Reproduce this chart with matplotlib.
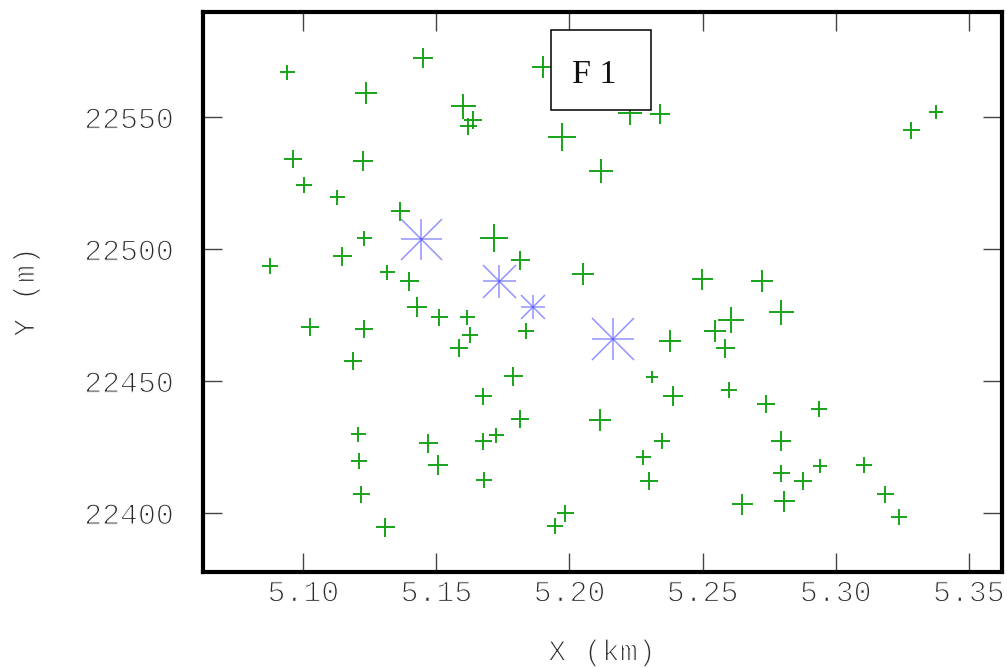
import matplotlib
matplotlib.use("Agg")
import matplotlib.pyplot as plt
import matplotlib.patheffects as pe
from matplotlib.patches import Rectangle

# Station positions (X in km, Y in m) and relative amplitude of each event
sta_x = [5.094, 5.145, 5.1236, 5.160, 5.1638, 5.1619, 5.1971, 5.1902, 5.0961, 5.1224,
         5.1002, 5.1127, 5.1362, 5.1715, 5.1229, 5.1147, 5.0875, 5.1815, 5.205, 5.1315,
         5.1399, 5.234, 5.2229, 5.3282, 5.3378, 5.2119, 5.2499, 5.2724, 5.1428, 5.151,
         5.1614, 5.1024, 5.1227, 5.1625, 5.1838, 5.1587, 5.1188, 5.1789, 5.1674, 5.1816,
         5.2115, 5.1204, 5.147, 5.1674, 5.1725, 5.121, 5.1507, 5.1679, 5.1218, 5.1308,
         5.1945, 5.1984, 5.2378, 5.2606, 5.2547, 5.2586, 5.2793, 5.2309, 5.2391, 5.2601,
         5.274, 5.2936, 5.2347, 5.2796, 5.2278, 5.2795, 5.294, 5.2879, 5.23, 5.3108,
         5.3185, 5.3239, 5.2648, 5.2806]
sta_y = [22567.3, 22572.5, 22559.1, 22554.3, 22549.0, 22546.5, 22542.7, 22569.0, 22534.0, 22533.6,
         22524.5, 22519.7, 22514.6, 22504.3, 22504.4, 22497.6, 22493.5, 22496.0, 22490.7, 22491.2,
         22487.8, 22551.4, 22551.7, 22545.2, 22552.0, 22529.8, 22488.7, 22487.8, 22478.2, 22474.2,
         22474.2, 22470.5, 22469.9, 22467.6, 22469.1, 22462.4, 22457.6, 22452.0, 22444.3, 22435.7,
         22435.2, 22430.0, 22426.5, 22427.4, 22429.6, 22419.8, 22418.3, 22412.7, 22407.2, 22394.9,
         22395.0, 22400.0, 22465.4, 22473.0, 22469.0, 22462.6, 22476.3, 22451.4, 22444.4, 22446.6,
         22441.3, 22439.3, 22427.3, 22427.3, 22421.3, 22415.3, 22417.8, 22412.0, 22412.0, 22418.4,
         22407.3, 22398.6, 22403.4, 22404.6]
sta_amp = [1.5, 2.0, 2.2, 2.5, 1.8, 1.7, 2.7, 2.3, 1.8, 2.0,
           1.6, 1.5, 1.9, 2.7, 1.5, 1.9, 1.6, 1.9, 2.3, 1.5,
           1.9, 2.0, 2.4, 1.7, 1.35, 2.4, 2.1, 2.2, 2.0, 1.7,
           1.5, 1.8, 1.8, 1.6, 1.6, 1.8, 1.8, 1.9, 1.7, 1.8,
           2.3, 1.5, 1.9, 1.7, 1.5, 1.6, 2.0, 1.6, 1.7, 1.9,
           1.6, 1.7, 2.2, 2.6, 2.2, 1.9, 2.5, 1.1, 2.0, 1.6,
           1.8, 1.6, 1.6, 2.0, 1.5, 1.7, 1.4, 1.8, 1.8, 1.6,
           1.7, 1.6, 2.1, 2.1]

# Source locations and their relative amplitude
src_x = [5.1444, 5.1735, 5.1865, 5.2162]
src_y = [22504.0, 22487.8, 22478.2, 22465.8]
src_amp = [4.1, 3.3, 2.4, 4.2]

x_ticks = [5.10, 5.15, 5.20, 5.25, 5.30, 5.35]
y_ticks = [22400, 22450, 22500, 22550]
panel_label = "F 1"

MS_PER_AMP = 7.2
MONO = "Liberation Mono"
# thin the monospace glyphs by eroding their outline with a white stroke
THIN = [pe.Normal(), pe.Stroke(linewidth=0.9, foreground="white")]

fig = plt.figure(figsize=(10.07, 6.68), dpi=100)
ax = fig.add_axes([0.202, 0.143, 0.793, 0.8395])

for x, y, a in zip(sta_x, sta_y, sta_amp):
    ax.plot(x, y, marker="+", ls="none", color="#10a010",
            markersize=a * MS_PER_AMP, markeredgewidth=1.35, zorder=3)

for x, y, a in zip(src_x, src_y, src_amp):
    for m in ("+", "x"):
        ax.plot(x, y, marker=m, ls="none", color=(0.3, 0.3, 1.0), alpha=0.6,
                markersize=a * MS_PER_AMP, markeredgewidth=1.1, zorder=4)

ax.set_xlim(5.0625, 5.3625)
ax.set_ylim(22377.5, 22590)

ax.set_xticks(x_ticks)
ax.set_xticklabels([f"{v:.2f}" for v in x_ticks])
ax.set_yticks(y_ticks)
ax.set_yticklabels([str(v) for v in y_ticks])

ax.tick_params(axis="both", which="major", direction="in", length=13.5, width=1.0,
               color="#444444", top=True, right=True, labelcolor="#2a2a2a",
               labelsize=21.5)
ax.tick_params(axis="x", pad=5)
ax.tick_params(axis="y", pad=21.5)
for lab in ax.get_xticklabels() + ax.get_yticklabels():
    lab.set_fontfamily(MONO)
    lab.set_path_effects(THIN)

for sp in ax.spines.values():
    sp.set_linewidth(3.0)
    sp.set_color("black")

ax.set_xlabel("X (km)", fontfamily=MONO, fontsize=21.5, color="#2a2a2a",
              path_effects=THIN)
ax.set_ylabel("Y (m)", fontfamily=MONO, fontsize=21.5, color="#2a2a2a",
              path_effects=THIN)
ax.xaxis.set_label_coords(0.499, -0.143)
ax.xaxis.label.set_va("center")
ax.yaxis.set_label_coords(-0.222, 0.5)
ax.yaxis.label.set_va("center")

# Panel label in a white box
ax.add_patch(Rectangle((0.4353, 0.8247), 0.1252, 0.1421, transform=ax.transAxes,
                       facecolor="white", edgecolor="black", linewidth=1.1,
                       zorder=6, clip_on=False))
ax.text(0.4891, 0.8734, panel_label, transform=ax.transAxes, ha="center",
        va="baseline", fontfamily="Liberation Serif", fontsize=24.5,
        color="#111111", zorder=7)

fig.savefig("out.png", dpi=100)
